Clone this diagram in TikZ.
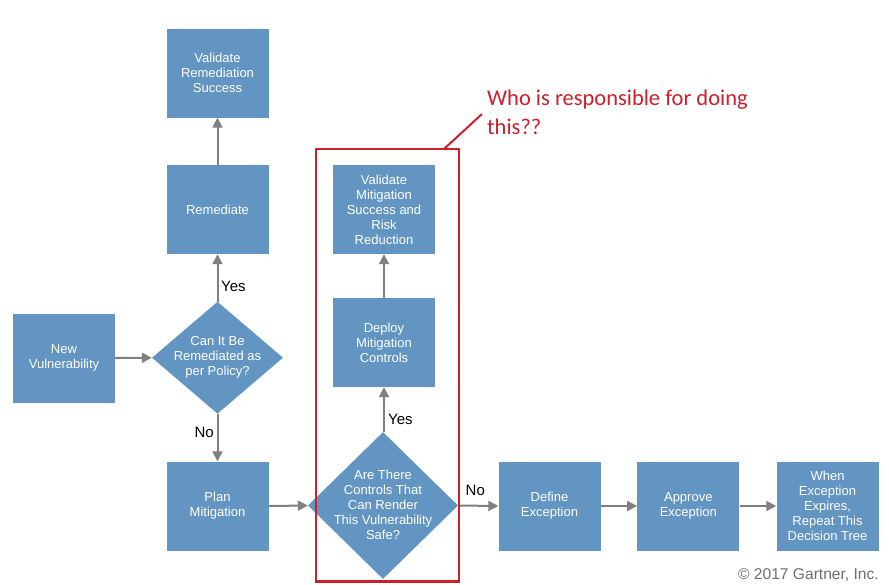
\documentclass[tikz,border=0pt]{standalone}
\usepackage{fontspec}
\setmainfont{Liberation Sans}
\newfontfamily\calibfont{Carlito}
\usetikzlibrary{shapes.geometric,arrows.meta}
\definecolor{boxblue}{RGB}{99,149,194}
\definecolor{arrgray}{RGB}{128,128,128}
\definecolor{annred}{RGB}{204,32,44}
\definecolor{copygray}{RGB}{110,110,110}
\begin{document}
\begin{tikzpicture}[x=1pt,y=-1pt,
  box/.style={draw=none, fill=boxblue, minimum width=102pt, minimum height=89pt, inner sep=0pt,
    text=white, font=\fontsize{13}{15}\selectfont, align=center},
  dia/.style={shape=diamond, fill=boxblue, inner sep=0pt},
  diatext/.style={text=white, font=\fontsize{13}{15}\selectfont, align=center, inner sep=0pt},
  arr/.style={draw=arrgray, line width=2pt, -{Triangle[length=10pt,width=10pt]}},
  lab/.style={font=\fontsize{15}{16}\selectfont, text=black, inner sep=0pt}]
\useasboundingbox (0,0) rectangle (889,584);
\fill[white] (0,0) rectangle (889,584);

% boxes
\node[box] (vrs) at (217.5,73) {Validate\\Remediation\\Success};
\node[box] (rem) at (217.5,209.5) {Remediate};
\node[box] (newv) at (64,358) {New\\Vulnerability};
\node[dia, minimum width=131pt, minimum height=112pt] (dq1) at (217.5,357.7) {};
\node[diatext] (dq1t) at (217.5,357.7) {Can It Be\\Remediated as\\per Policy?};
\node[box] (plan) at (217.5,506) {Plan\\Mitigation};
\node[dia, minimum width=150pt, minimum height=147pt] (dq2) at (383,505.5) {};
\node[diatext] (dq2t) at (383,505) {Are There\\Controls That\\Can Render\\This Vulnerability\\Safe?};
\node[box] (dep) at (384,342.5) {Deploy\\Mitigation\\Controls};
\node[box] (vms) at (384,209.5) {Validate\\Mitigation\\Success and\\Risk\\Reduction};
\node[box] (def) at (549.5,506) {Define\\Exception};
\node[box] (app) at (688.3,506) {Approve\\Exception};
\node[box] (when) at (827.5,506) {When\\Exception\\Expires,\\Repeat This\\Decision Tree};

% connectors
\draw[arr] (rem.north) -- (vrs.south);
\draw[arr] (dq1.north) -- (rem.south);
\draw[arr] (newv.east) -- (dq1.west);
\draw[arr] (dq1.south) -- (plan.north);
\draw[arr] (plan.east) -- (dq2.west);
\draw[arr] (dq2.north -| dep.south) -- (dep.south);
\draw[arr] (dep.north) -- (vms.south);
\draw[arr] (dq2.east) -- (def.west);
\draw[arr] (def.east) -- (app.west);
\draw[arr] (app.east) -- (when.west);

% labels
\node[lab, anchor=west] (yes1) at (221,286) {Yes};
\node[lab, anchor=east] (no1) at (214,432) {No};
\node[lab, anchor=west] (yes2) at (388,419) {Yes};
\node[lab, anchor=west] (no2) at (465.5,490) {No};

% red annotation
\node[draw=annred, line width=2.5pt, minimum width=143pt, minimum height=432.5pt, inner sep=0pt] (redbox) at (387.5,365.25) {};
\coordinate (lnA) at (444,149);
\coordinate (lnB) at (482,114);
\draw[annred, line width=2pt] (lnA) -- (lnB);
\node[anchor=north west, text=annred, font=\calibfont\fontsize{22.5}{29}\selectfont, align=left, inner sep=0pt] (who) at (487,90) {Who is responsible for doing\\this??};

\node[anchor=east, text=copygray, font=\fontsize{15.6}{16}\selectfont, inner sep=0pt] (copy) at (879,575) {\textcopyright{} 2017 Gartner, Inc.};
\end{tikzpicture}
\end{document}
